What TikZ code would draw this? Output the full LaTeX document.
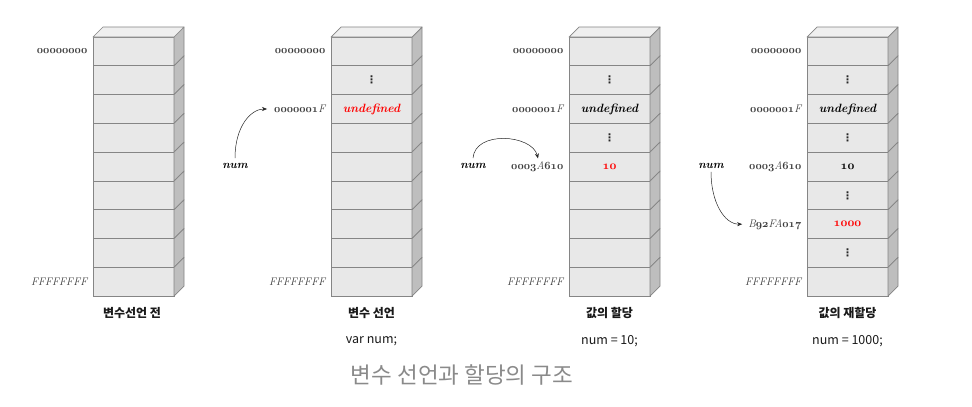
\documentclass[tikz,border=0pt]{standalone}
\usepackage{fontspec}
\newfontfamily\kr{Noto Sans CJK KR}
\newfontfamily\dejavu{DejaVu Sans}
\usetikzlibrary{arrows.meta}
\definecolor{edge}{HTML}{858585}
\definecolor{front}{HTML}{E8E8E8}
\definecolor{sidec}{HTML}{BEBEBE}
\definecolor{topc}{HTML}{EFEFEF}
\definecolor{addrc}{HTML}{3C3C3C}
\definecolor{capc}{HTML}{8A8A8A}
\definecolor{hl}{HTML}{FF0000}
\newcommand\osb[1]{{\usefont{OML}{cmm}{b}{it}#1}}
\newcommand\adr[1]{\osb{#1}}
\tikzset{
  cell/.style={draw=edge, fill=front, minimum width=81pt, minimum height=28.8pt, inner sep=0pt, outer sep=0pt, line width=0.7pt},
  sideface/.style={draw=edge, fill=sidec, line width=0.7pt, line join=round},
  topface/.style={draw=edge, fill=topc, line width=0.7pt, line join=round},
  addr/.style={anchor=east, text=addrc, font=\fontsize{11}{13}\selectfont\itshape, inner sep=0pt},
  val/.style={font=\fontsize{12}{14}\selectfont\bfseries\itshape, inner sep=0pt},
  dotsn/.style={font=\dejavu\bfseries\fontsize{10.5}{11}\selectfont, inner sep=0pt, text=black!85},
  varname/.style={font=\fontsize{11.5}{13}\selectfont\bfseries\itshape, inner sep=0pt},
  titlen/.style={font=\kr\bfseries\fontsize{12}{14}\selectfont, text=black!90},
  coden/.style={font=\kr\fontsize{12.5}{14}\selectfont, text=black!90},
  capn/.style={font=\kr\fontsize{22.5}{26}\selectfont, text=capc},
  arr/.style={-{Stealth[length=5pt,width=4pt]}, line width=0.5pt, black!85}
}
\begin{document}
\begin{tikzpicture}[x=1pt,y=-1pt]
\useasboundingbox[fill=white] (0,0) rectangle (972,407);
% memory columns
\foreach \c in {1,...,4} {
  \foreach \r in {0,...,8} {
    \node[cell] (c\c-\r) at ({93+238*(\c-1)+40.5},{37+28.8*\r+14.4}) {};
    \draw[sideface] (c\c-\r.north east) -- ++(10,-10) -- ++(0,28.8) -- (c\c-\r.south east) -- cycle;
  }
  \draw[topface] (c\c-0.north west) -- ++(10,-10) -- ++(81,0) -- (c\c-0.north east) -- cycle;
}
% address labels
\node[addr] (a1-0) at ([xshift=-5.5pt]c1-0.west) {\adr{00000000}};
\node[addr] (a1-8) at ([xshift=-5.5pt]c1-8.west) {FFFFFFFF};
\node[addr] (a2-0) at ([xshift=-5.5pt]c2-0.west) {\adr{00000000}};
\node[addr] (a2-2) at ([xshift=-5.5pt]c2-2.west) {\adr{0000001}F};
\node[addr] (a2-8) at ([xshift=-5.5pt]c2-8.west) {FFFFFFFF};
\node[addr] (a3-0) at ([xshift=-5.5pt]c3-0.west) {\adr{00000000}};
\node[addr] (a3-2) at ([xshift=-5.5pt]c3-2.west) {\adr{0000001}F};
\node[addr] (a3-4) at ([xshift=-5.5pt]c3-4.west) {\adr{0003}A\adr{610}};
\node[addr] (a3-8) at ([xshift=-5.5pt]c3-8.west) {FFFFFFFF};
\node[addr] (a4-0) at ([xshift=-5.5pt]c4-0.west) {\adr{00000000}};
\node[addr] (a4-2) at ([xshift=-5.5pt]c4-2.west) {\adr{0000001}F};
\node[addr] (a4-4) at ([xshift=-5.5pt]c4-4.west) {\adr{0003}A\adr{610}};
\node[addr] (a4-6) at ([xshift=-5.5pt]c4-6.west) {B\adr{92}FA\adr{017}};
\node[addr] (a4-8) at ([xshift=-5.5pt]c4-8.west) {FFFFFFFF};
% cell contents
\node[dotsn] (d2-1) at (c2-1) {⋮};
\node[val, text=hl] (v2-2) at (c2-2) {undefined};
\node[dotsn] (d3-1) at (c3-1) {⋮};
\node[val] (v3-2) at (c3-2) {undefined};
\node[dotsn] (d3-3) at (c3-3) {⋮};
\node[val, text=hl] (v3-4) at (c3-4) {\fontsize{13}{14}\selectfont\osb{10}};
\node[dotsn] (d4-1) at (c4-1) {⋮};
\node[val] (v4-2) at (c4-2) {undefined};
\node[dotsn] (d4-3) at (c4-3) {⋮};
\node[val] (v4-4) at (c4-4) {\fontsize{13}{14}\selectfont\osb{10}};
\node[dotsn] (d4-5) at (c4-5) {⋮};
\node[val, text=hl] (v4-6) at (c4-6) {\fontsize{13}{14}\selectfont\osb{1000}};
\node[dotsn] (d4-7) at (c4-7) {⋮};
% variable names and arrows
\node[varname] (n2) at (235,166) {num};
\node[varname] (n3) at (473,166) {num};
\node[varname] (n4) at (711,166) {num};
\draw[arr] ([yshift=5pt]n2.north) .. controls +(0,-32) and +(-16,0) .. ([xshift=-7pt]a2-2.west);
\draw[arr] ([yshift=5pt]n3.north) .. controls +(2,-28) and +(-6,-24) .. ([xshift=27pt,yshift=3pt]a3-4.north west);
\draw[arr] ([yshift=-3pt]n4.south) .. controls +(0,30) and +(-18,0) .. ([xshift=-6pt]a4-6.west);
% titles
\node[titlen] (t1) at (132,313) {변수선언 전};
\node[titlen] (t2) at (371.5,313) {변수 선언};
\node[titlen] (t3) at (609.5,313) {값의 할당};
\node[titlen] (t4) at (847.5,313) {값의 재할당};
\node[coden] (k2) at (371.5,341) {var num;};
\node[coden] (k3) at (609.5,341) {num = 10;};
\node[coden] (k4) at (847.5,341) {num = 1000;};
\node[capn] (cap) at (462,375) {변수 선언과 할당의 구조};
\end{tikzpicture}
\end{document}
